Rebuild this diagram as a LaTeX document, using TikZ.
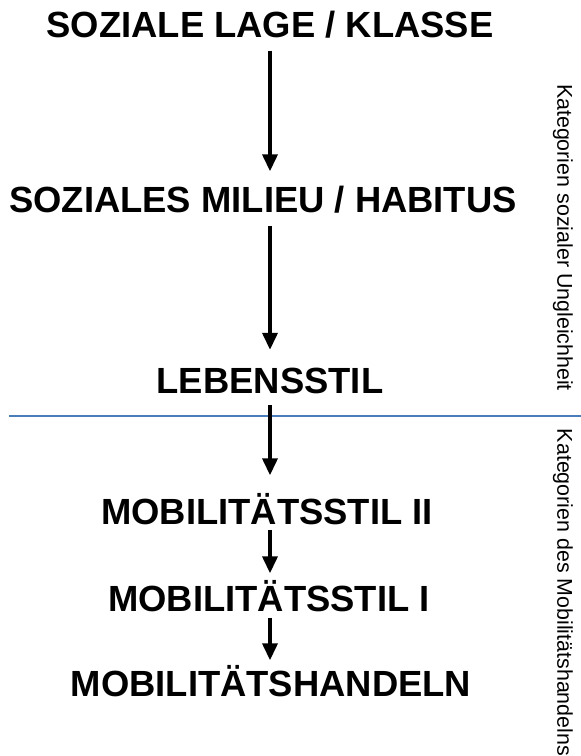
\documentclass[tikz,border=0pt]{standalone}
\usepackage{fontspec}
\setmainfont{Liberation Sans}
\usetikzlibrary{arrows.meta}
\definecolor{divblue}{HTML}{4A7EBB}
\begin{document}
\begin{tikzpicture}[x=1pt,y=-1pt,
  lvl/.style={font=\fontsize{36.4}{37}\selectfont\bfseries, text height=26pt, text depth=0pt, inner sep=0pt, anchor=center},
  side/.style={font=\fontsize{21.4}{22}\selectfont, rotate=-90, inner sep=0pt, anchor=center},
  flow/.style={line width=3.6pt, -{Triangle[width=15pt,length=17pt]}},
  divider/.style={draw=divblue, line width=2.4pt}]
\useasboundingbox (0,0) rectangle (581,756);
\coordinate (ax) at (270,0);
\node[lvl] (lage) at (270,24.5) {SOZIALE LAGE / KLASSE};
\node[lvl] (milieu) at (263,199.5) {SOZIALES MILIEU / HABITUS};
\node[lvl] (leben) at (270,380) {LEBENSSTIL};
\node[lvl] (mob2) at (267,511.5) {MOBILITÄTSSTIL II};
\node[lvl] (mob1) at (269,598.5) {MOBILITÄTSSTIL I};
\node[lvl] (handeln) at (271,683.5) {MOBILITÄTSHANDELN};
\coordinate (lineL) at (9,416);
\coordinate (lineR) at (581,416);
\draw[divider] (lineL) -- (lineR);
\draw[flow, shorten <=13pt, shorten >=15pt] (lage.south -| ax) -- (milieu.north -| ax);
\draw[flow, shorten <=13pt, shorten >=17pt] (milieu.south -| ax) -- (leben.north -| ax);
\draw[flow, shorten <=12pt, shorten >=23pt] (leben.south -| ax) -- (mob2.north -| ax);
\draw[flow, shorten <=5pt, shorten >=12pt] (mob2.south -| ax) -- (mob1.north -| ax);
\draw[flow, shorten <=6pt, shorten >=10pt] (mob1.south -| ax) -- (handeln.north -| ax);
\node[side] (ungleich) at (563,237.5) {Kategorien sozialer Ungleichheit};
\node[side] (mobhand) at (563,592.5) {Kategorien des Mobilitätshandelns};
\end{tikzpicture}
\end{document}
